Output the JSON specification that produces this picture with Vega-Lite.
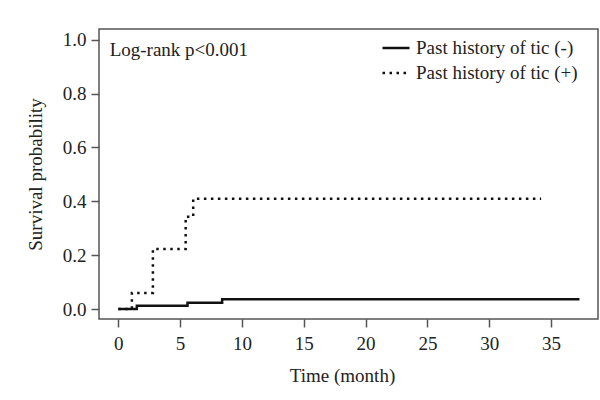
{
  "$schema": "https://vega.github.io/schema/vega-lite/v6.json",
  "width": 499,
  "height": 290,
  "autosize": {"type": "none"},
  "padding": {"left": 99, "top": 29, "right": 2, "bottom": 81},
  "background": "white",
  "config": {
    "font": "Liberation Serif",
    "view": {"stroke": "#555", "strokeWidth": 1.5},
    "axis": {
      "domain": false,
      "grid": false,
      "tickColor": "#555",
      "tickWidth": 1.5,
      "tickSize": 8,
      "labelFont": "Liberation Serif",
      "labelFontSize": 19,
      "labelColor": "#222",
      "titleFont": "Liberation Serif",
      "titleFontSize": 19,
      "titleFontWeight": "normal",
      "titleColor": "#222"
    }
  },
  "layer": [
    {
      "data": {
        "values": [
          {"group": "Past history of tic (-)", "time": 0, "surv": 0},
          {"group": "Past history of tic (-)", "time": 1.5, "surv": 0.012},
          {"group": "Past history of tic (-)", "time": 5.6, "surv": 0.023},
          {"group": "Past history of tic (-)", "time": 8.4, "surv": 0.036},
          {"group": "Past history of tic (-)", "time": 37.3, "surv": 0.036},
          {"group": "Past history of tic (+)", "time": 0, "surv": 0},
          {"group": "Past history of tic (+)", "time": 1.1, "surv": 0.06},
          {"group": "Past history of tic (+)", "time": 2.8, "surv": 0.223},
          {"group": "Past history of tic (+)", "time": 5.45, "surv": 0.343},
          {"group": "Past history of tic (+)", "time": 6.06, "surv": 0.41},
          {"group": "Past history of tic (+)", "time": 34.2, "surv": 0.41}
        ]
      },
      "mark": {"type": "line", "interpolate": "step-after", "color": "#111", "strokeWidth": 2.5},
      "encoding": {
        "x": {
          "field": "time", "type": "quantitative",
          "scale": {"domain": [-1.56, 38.8], "nice": false, "zero": false},
          "axis": {"values": [0, 5, 10, 15, 20, 25, 30, 35], "title": "Time (month)", "labelPadding": 7, "titlePadding": 13, "titleX": 243}
        },
        "y": {
          "field": "surv", "type": "quantitative",
          "scale": {"domain": [-0.037, 1.04], "nice": false, "zero": false},
          "axis": {"values": [0, 0.2, 0.4, 0.6, 0.8, 1.0], "format": ".1f", "title": "Survival probability", "labelPadding": 5, "titlePadding": 17}
        },
        "strokeDash": {
          "field": "group", "type": "nominal",
          "scale": {"domain": ["Past history of tic (-)", "Past history of tic (+)"], "range": [[1, 0], [2.5, 4.5]]},
          "legend": {
            "title": null,
            "orient": "none",
            "legendX": 282,
            "legendY": 4,
            "symbolType": "stroke",
            "symbolSize": 729,
            "symbolStrokeWidth": 2.5,
            "symbolStrokeColor": "#111",
            "labelFont": "Liberation Serif",
            "labelFontSize": 19,
            "labelColor": "#222",
            "labelOffset": 5,
            "labelLimit": 400,
            "rowPadding": -4
          }
        }
      }
    },
    {
      "data": {"values": [{"label": "Log-rank p<0.001", "x": -0.7, "y": 0.963}]},
      "mark": {"type": "text", "align": "left", "baseline": "middle", "fontSize": 19, "font": "Liberation Serif", "color": "#222"},
      "encoding": {
        "x": {"field": "x", "type": "quantitative"},
        "y": {"field": "y", "type": "quantitative"},
        "text": {"field": "label"}
      }
    }
  ]
}
